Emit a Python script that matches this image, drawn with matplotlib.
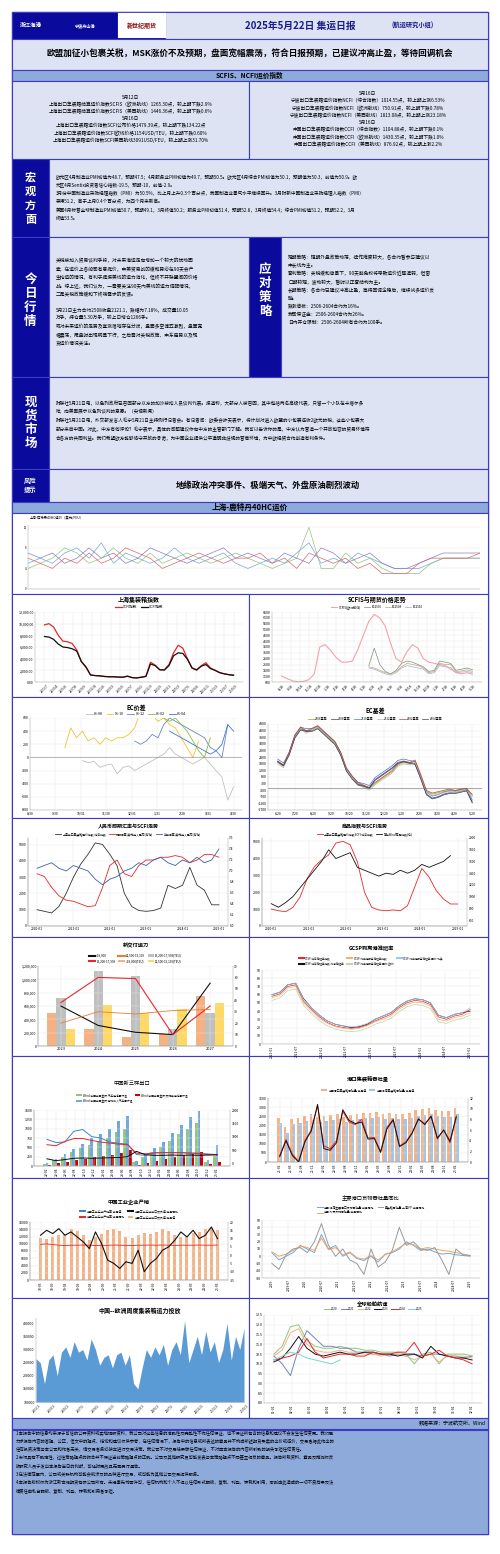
import matplotlib
matplotlib.use("Agg")
import matplotlib.pyplot as plt
from matplotlib.patches import Rectangle
import numpy as np

plt.rcParams['font.family'] = ['Noto Sans CJK SC', 'DejaVu Sans']
plt.rcParams['axes.unicode_minus'] = False

W, H = 500, 1554
fig = plt.figure(figsize=(W/100, H/100), dpi=100)
fig.patch.set_facecolor('white')

DARK = '#0a0a9c'
LIGHT = '#dde3f3'
MID = '#8eaadb'
EDGE = '#3b3bc4'

def rect(x, y, w, h, fc, ec=EDGE, lw=0.8):
    fig.patches.append(Rectangle((x/W, 1-(y+h)/H), w/W, h/H, transform=fig.transFigure,
                                 facecolor=fc, edgecolor=ec, linewidth=lw, zorder=-5))

def txt(x, y, s, size=4, color='black', ha='center', va='center', weight='normal', ls=1.35):
    fig.text(x/W, 1-y/H, s, fontsize=size, color=color, ha=ha, va=va, weight=weight, linespacing=ls)

def ax_at(x, y, w, h):
    a = fig.add_axes([x/W, 1-(y+h)/H, w/W, h/H])
    a.set_zorder(2)
    a.tick_params(labelsize=2.6, length=0, pad=1)
    for s in a.spines.values():
        s.set_linewidth(0.3); s.set_color('#999999')
    a.spines['top'].set_visible(False); a.spines['right'].set_visible(False)
    a.grid(True, color='#e6e6e6', lw=0.3)
    return a

# ---------------- text data ----------------
title_text = '2025年5月22日 集运日报'
subtitle_text = '(航运研究小组)'
headline = '欧盟加征小包裹关税，MSK涨价不及预期，盘面宽幅震荡，符合日报预期，已建议冲高止盈，等待回调机会'
idx_left = ('5月12日\n上海出口集装箱结算运价指数SCFIS（欧洲航线）1265.30点，较上期下跌2.9%\n'
            '上海出口集装箱结算运价指数SCFIS（美西航线）1446.36点，较上期下跌0.6%\n5月16日\n'
            '上海出口集装箱运价指数SCFI公布价格1479.39点，较上期下跌134.22点\n'
            '上海出口集装箱运价指数SCFI欧线价格1154USD/TEU，较上期下跌0.60%\n'
            '上海出口集装箱运价指数SCFI美西航线3091USD/FEU，较上期上涨31.70%')
idx_right = ('5月16日\n宁波出口集装箱运价指数NCFI（综合指数）1014.55点，较上期上涨6.53%\n'
             '宁波出口集装箱运价指数NCFI（欧洲航线）750.91点，较上期下跌0.78%\n'
             '宁波出口集装箱运价指数NCFI（美西航线）1813.08点，较上期上涨23.18%\n5月16日\n'
             '中国出口集装箱运价指数CCFI（综合指数）1104.88点，较上期下跌0.1%\n'
             '中国出口集装箱运价指数CCFI（欧洲航线）1430.35点，较上期下跌1.0%\n'
             '中国出口集装箱运价指数CCFI（美西航线）876.92点，较上期上涨2.2%')
macro = ('欧元区4月制造业PMI初值为48.7，预期47.5；4月服务业PMI初值为49.7，预期50.5。欧元区4月综合PMI初值为50.1，预期值为50.3，前值为50.9。欧\n'
         '元区4月Sentix投资者信心指数-19.5，预期-10，前值-2.9。\n'
         '3月份中国制造业采购经理指数（PMI）为50.5%，比上月上升0.3个百分点，我国制造业景气水平继续回升。3月财新中国制造业采购经理人指数（PMI）\n'
         '录得51.2，高于上月0.4个百分点，为四个月来新高。\n'
         '美国4月标普全球制造业PMI初值50.7，预期49.1，3月终值50.2；服务业PMI初值51.4，预期52.8，3月终值54.4；综合PMI初值51.2，预期52.2，3月\n'
         '终值53.5。')
today = ('关税被加入贸易谈判手段，对未来海运走向增加一个较大的扰动因\n素，在运价上各船司有意挺价，中美贸易战的缓和势必在90天会产\n'
         '生抢运的情况，有利于提振美线的运力消化，但终不开联盟间的价格\n战。综上述，我们认为，一需要关注90天内美线的运力调配情况，\n'
         '二是关税政策缓和下终端需求的反馈。\n\n'
         '5月21日主力合约2508收盘2121.1，跌幅为7.18%，成交量10.05\n万手，持仓量5.30万手，较上日增仓1266手。\n'
         '或对未来运价的走势及宣涨落地存在分歧，盘面多空博弈激烈，盘面宽\n幅震荡，尾盘时出现明显下行，之后需对关税政策、中东局势以及现\n货运价情况关注。')
strategy = ('短期策略：短期外盘政策动荡，操作难度较大，各合约暂参与建议以\n中长线为主。\n'
            '套利策略：关税缓和背景下，90天豁免权将导致运价近强远弱，但窗\n口期较短，波动较大，暂时以正套结构为主。\n'
            '长期策略：各合约已建议冲高止盈，等待回调企稳后，继续试多运价反\n弹。\n'
            '跌涨停板：2506-2604合约为16%。\n我司保证金：2506-2604合约为26%。\n日内开仓限制：2506-2604所有合约为100手。')
spot = ('财联社5月21日电，以色列政府已召回部分以方的加沙被扣人员谈判代表。报道称，大部分人被召回，其中包括两名高级代表，只留一个小队在卡塔尔多\n'
        '哈，向美国展示以色列谈判的意愿。（央视新闻）\n'
        '财联社5月21日电，外交部发言人毛宁5月21日主持例行记者会。有记者问：欧委会昨天表示，将计划对进入欧盟的小包裹征收2欧元的税，这些小包裹大\n'
        '部分来自中国。对此，中方有何评论？毛宁表示，具体的问题建议你向中方的主管部门了解。我可以告诉你的是，中方认为营造一个开放包容的贸易环境符\n'
        '合各方的共同利益。我们希望欧方能够恪守开放的承诺，为中国企业提供公平透明非歧视的营商环境，为中欧经贸合作创造有利条件。')
risk = '地缘政治冲突事件、极端天气、外盘原油剧烈波动'
disclaimer = ('1.本报告中的信息均来源于可信的公开资料或实地调研资料，我公司对这些信息的准确性及完整性不作任何保证，也不保证所包含的信息和建议不会发生任何变更。我们已\n'
              '力求报告内容的客观、公正，但文中的观点、结论和建议仅供参考，在任何情况下，报告中的信息或所表达的意见并不构成所述期货买卖的出价或征价，交易者据此作出的\n'
              '任何投资决策与本公司和作者无关，请交易者务必独立进行交易决策。我公司不对交易结果做任何保证，不对因本报告的内容所引致的损失承担任何责任。\n'
              '2.市场具有不确定性，过往策略观点的吻合并不保证当前策略观点的正确。公司及其他研究员可能发表与本策略观点不同甚至相反的意见。报告所载资料、意见及推测仅反\n'
              '映研究人员于发出本报告当日的判断，可随时更改且无需另行通告。\n'
              '3.在法律范围内，公司或关联机构可能会就涉及的品种进行交易，或可能为其他公司交易提供服务。\n'
              '4.本报告版权仅为浙江新世纪期货有限公司所有。未经事先书面许可，任何机构和个人不得以任何形式翻版、复制、刊登、转载和引用，否则由此造成的一切不良后果及法\n'
              '律责任由私自翻版、复制、刊登、转载和引用者承担。')

# ---------------- chart data ----------------
idx_ticks = ['22/1/7','22/3/4','22/5/6','22/7/8','22/9/9','22/11/4','23/1/6','23/3/3','23/5/5','23/7/7','23/9/1','23/11/3','24/1/5','24/3/1','24/5/3','24/7/5','24/9/6','24/11/1','25/1/3','25/3/7','25/5/9']
scfi = [9800,10000,9400,8000,7000,6900,6600,5500,3500,2500,1200,1100,1050,950,900,900,850,820,1000,750,700,850,1000,3400,2900,2100,2100,3000,5000,6300,5800,4000,2400,2000,2800,3300,2400,2000,1600,1400,1250,1200]
ccfi = [7800,7700,7300,6500,6000,5900,5700,5300,3500,2600,1200,1100,1050,950,900,900,850,820,1000,750,700,800,950,3100,2800,2100,2050,2800,4500,5000,4900,3900,2400,2100,2700,3000,2300,2000,1600,1400,1250,1150]
scfis_ticks = ['8/18','9/18','10/18','11/18','12/18','1/18','2/18','3/18','4/18','5/18','6/18','7/18','8/18','9/18','10/18','11/18','12/18','1/18','2/18','3/18','4/18','5/18']
scfis_eu = [1100,900,700,620,650,800,1300,3600,3800,3300,2700,2300,2300,2400,3400,4600,5800,6400,6100,5400,3900,2600,2300,3200,3800,3500,2600,2300,2200,2100,2000,1700,1400,1300,1400,1265]
fut_2506 = [2000,3500,2100,1500,1300,1600,2200,2400,2300,2100,1900,1500,1600,2400,2300,2200,1600,1700,1800,1650]
fut_2508 = [1900,1800,1600,1400,1300,1500,1900,2200,2100,2000,1800,1400,1500,2200,2100,2100,1500,1550,1650,1500]
fut_2510 = [1800,1700,1500,1300,1200,1400,1800,2000,1900,1800,1700,1300,1400,2000,1900,1850,1400,1450,1500,1400]
ec_ticks = ['8/30','9/30','10/31','11/30','12/31','1/31','2/28','3/31','4/30']
sp_0608 = [-50,-80,-60,-150,-120,-100,-250,-150,-130,-200,-150,-100,-50,0,50,150,50,0,-50,-100,-50,0,-100,-200,-300,-650,-450]
sp_0610 = [150,450,300,400,250,300,200,300,250,300,300,350,450,700,600,650,550,600,500,450,300,150,0,250]
sp_0612 = [250,200,250,350,300,500,600,550,500,450,400,350,300,150,100,0,500]
sp_0602 = [700,650,600,550,600,500,400,250,100,0,300]
sp_0604 = [400,350,300,250,200,150,100,50,100,200,500,400]
basis_ticks = ['6/20','7/20','8/20','9/20','10/20','11/20','12/20','1/20','2/20','3/20','4/20','5/20']
basis_a = [1900,1600,2600,3900,4500,4200,4400,4600,4200,3800,3400,2600,1400,800,300,100,-100,300,600,900,1200,1700,1900,1800,2000,900,-300,-500,-400,-300,-200,-300,-200,-150,-600]
basis_b = [2000,1700,2500,3800,4400,4300,4300,4500,4100,3700,3300,2500,1300,700,250,150,0,600,900,1200,1500,1900,2000,1900,1800,700,-500,-800,-700,-500,-400,-400,-300,-200,-1100]
fx_ticks = ['2020-01','2021-01','2022-01','2023-01','2024-01','2025-01']
fx_scfi = [1000,900,800,1200,2000,3000,3800,4400,5100,5000,4400,3700,2000,1200,950,900,950,1100,2500,2300,2500,3600,2500,2200,1300,1300]
fx_onshore = [6.95,6.90,6.70,6.55,6.47,6.45,6.40,6.35,6.37,6.70,7.10,7.20,6.95,6.90,7.10,7.20,7.20,7.25,7.25,7.28,7.25,7.15,7.20,7.30,7.30,7.25]
fx_offshore = [7.05,7.10,7.15,7.05,7.00,7.10,7.05,7.00,6.85,6.75,6.85,6.90,7.00,7.05,7.15,7.10,7.20,7.25,7.15,7.10,7.20,7.15,7.25,7.15,7.20,7.40]
cm_ticks = ['2020-01','2021-01','2022-01','2023-01','2024-01','2025-01']
cm_scfi = [1000,900,850,1100,1700,2800,3500,3900,4200,4900,5000,4800,3800,2000,1100,950,900,950,900,1200,2300,3400,2900,2100,1600,1300,1300]
cm_wind = [880,820,900,1000,1150,1300,1450,1600,1800,1650,1700,1750,1500,1450,1400,1350,1400,1380,1450,1400,1450,1550,1500,1550,1600,1700]
cap_years = ['2023','2024','2025','2026','2027']
cap_gt18k = [500000,250000,130000,180000,750000]
cap_15k = [720000,1120000,1050000,250000,500000]
cap_12k = [250000,610000,500000,550000,650000]
cap_n18k = [35,18,12,10,55]
cap_n15k = [38,60,59,10,35]
cap_n12k = [20,30,28,31,32]
gc_ticks = ['2021-01','2021-07','2022-01','2022-07','2023-01','2023-07','2024-01','2024-07','2025-01']
gc_a = [60,63,72,74,55,44,35,28,24,22,20,21,24,30,34,38,46,52,55,54,50,35,32,36,38,40]
gc_b = [58,61,70,72,52,42,33,26,22,20,19,20,23,28,32,36,44,50,53,52,48,33,30,34,36,42]
gc_c = [56,59,68,70,50,40,31,25,21,19,18,19,22,27,30,34,42,48,51,50,46,30,28,32,34,38]
ex_ticks = ['22-02','22-04','22-06','22-08','22-10','22-12','23-02','23-04','23-06','23-08','23-10','23-12','24-02','24-04','24-06','24-08','24-10','24-12','25-02']
ex_green = [60,150,250,380,480,560,650,760,900,1000,120,250,380,520,680,850,1000,1150,100,260]
ex_blue = [80,200,320,450,600,750,850,1000,1200,1350,140,300,480,650,880,1100,1300,1480,160,560]
ex_red = [30,70,110,160,190,230,270,300,360,420,40,80,130,180,240,290,330,380,50,100]
ex_line1 = [900,780,800,1200,1270,1000,950,800,750,720,330,300,400,400,400,400,390,380,350,330]
ex_line2 = [700,660,820,930,930,860,800,760,720,700,380,360,390,400,400,400,380,370,330,320]
ex_line3 = [170,100,140,190,200,190,200,210,220,250,450,320,300,300,310,300,310,300,310,320]
pt_ticks = ['21-02','21-05','21-08','21-11','22-02','22-05','22-08','22-11','23-02','23-05','23-08','23-11','24-02','24-05','24-08','24-11','25-02']
pt_bar1 = [2400,1900,2350,2400,2500,2600,2450,2500,2550,2600,2450,2550,2650,2700,2700,2750,2650,2700,2650,2650,2700,2850,2900,2950,2850,2800,2800,2950]
pt_bar2 = [2150,1600,2100,2150,2250,2300,2200,2250,2300,2350,2200,2300,2350,2400,2400,2450,2350,2400,2350,2350,2400,2500,2550,2600,2500,2450,2450,2600]
pt_yoy1 = [1.2,4.2,1.5,0.1,4.0,6.0,10.5,3.0,2.5,4.0,9.5,7.5,7.0,8.0,4.5,4.6,2.0,6.5,8.0,3.0,3.8,5.5,8.0,7.2,8.5,4.3,6.0,3.6,8.3]
pt_yoy2 = [1.0,4.0,1.2,0.0,3.8,5.8,10.8,2.5,2.2,3.6,9.8,7.8,7.2,7.5,4.3,4.4,1.8,6.2,7.9,2.9,3.6,5.4,8.1,7.0,8.6,4.5,6.0,3.9,8.6]
ind_ticks = ['18-03','18-09','19-03','19-09','20-03','20-09','21-03','21-09','22-03','22-09','23-03','23-09','24-03','24-09','25-03']
ind_bar = [11500,11200,11800,12500,12800,14200,13500,12500,11000,12000,12800,13800,14100,13500,12000,11500,12300,13000,12700,13200,14000,13500,12500,11800,12000,13000,13300,14100,14300,13700]
ind_yoy = [6.5,6.8,6.4,6.0,5.8,6.0,6.0,6.1,6.0,5.8,5.9,5.9,6.1,6.0,5.9,5.8,6.0,6.0,6.1,6.0,6.1,6.0,5.9,6.0,6.0,6.0,6.1,6.0,6.0,6.1]
ind_exp = [12,15,13,16,12,14,11,8,4,14,7,-3,-5,-8,-4,-5,3,-10,-5,-2,3,5,9,14,11,15,10,12,17,10]
pg_ticks = ['2019','2019-07','2020','2020-07','2021','2021-07','2022','2022-07','2023','2023-07','2024','2024-07','2025']
pg_a = [5,-5,0,5,15,10,5,30,10,15,0,5,-3,-6,0,-8,3,5,10,20,15,8,10,6,3,4,2,1,0]
pg_b = [6,0,3,8,14,12,8,25,9,12,2,6,-2,-4,1,-5,2,6,12,18,16,10,12,10,8,7,5,3,1]
pg_c = [-10,-18,2,10,12,5,20,45,15,0,10,-5,-10,-25,10,-15,-8,8,40,15,20,10,8,12,-5,-25,10,2,1]
ce_ticks = ['23/1/1','23/3/1','23/5/1','23/7/1','23/9/1','23/11/1','24/1/1','24/3/1','24/5/1','24/7/1','24/9/1','24/11/1','25/1/1','25/3/1','25/5/1']
ce_cap = [265000,250000,170000,260000,280000,200000,290000,310000,270000,330000,290000,300000,260000,340000,300000,240000,270000,280000,230000,280000,290000,240000,280000,170000,150000,230000,300000,270000,310000,280000,320000,240000,300000,330000,280000,410000,250000,300000,350000,280000,370000,290000,330000,250000,300000,400000,260000,350000,300000,380000]
sp_ticks = ['01-01','02-01','03-01','04-01','05-01','06-01','07-01','08-01','09-01','10-01','11-01','12-01']
sp_2023 = [10.1,10.3,10.8,11.4,10.8,10.5,10.4,10.5,10.6,10.5,10.5,10.6,10.6,10.5,10.5,10.4,10.5,10.5,10.3,10.9,10.5,10.4,10.3,10.3,10.2]
sp_2024 = [10.2,10.3,10.4,10.6,11.3,10.6,10.3,10.4,10.5,10.5,10.4,10.4,10.6,10.5,10.5,10.6,10.6,11.1,10.4,10.5,10.7,10.4,10.3,10.2,10.0]
sp_2021 = [10.4,10.0,9.4,10.8,11.7,11.3,10.9,10.9,10.8,10.8,10.6,10.6,10.5,10.5,10.4,10.5,10.4,10.5,10.4,10.5,10.5,10.4,10.4,10.3,10.4]
sp_2020 = [10.5,10.9,11.9,12.0,11.2,10.9,10.8,10.8,10.9,10.8,10.8,10.7,10.7,10.6,10.6,10.6,10.5,10.0,10.5,10.6,10.0,10.5,10.5,10.5,10.4]
sp_2022 = [10.4,10.7,11.6,11.8,11.0,10.7,10.6,10.6,10.7,10.6,10.6,10.5,10.5,10.4,10.5,10.5,10.4,10.2,10.4,10.5,10.1,10.4,10.4,10.4,10.3]
sp_2025 = [10.2,10.4,10.6,10.5,10.3,10.2,10.1,10.0,10.2]
sr_a = [5,6,5,7,8,6,9,5,7,6,5,6,8,6,5,6,7,5,4,5,6,5,7,9,5,6,5,7,6,5,4,4,4,5,6,6,6,6]
sr_b = [4,5,6,8,7,5,6,8,6,5,7,5,6,7,6,5,6,7,6,5,4,5,6,12,4,4,7,5,6,4,3,3,3,5,6,6,6,6]
sr_c = [6,5,4,6,5,7,5,6,8,7,6,4,5,6,7,6,5,6,6,7,5,6,4,7,6,5,6,4,5,3,3,3,5,6,6,6,6,7]
sr_d = [7,6,7,5,6,8,6,7,5,6,8,7,6,5,6,7,8,6,7,6,5,7,6,5,8,7,5,6,7,5,4,4,5,6,7,7,7,7]

# ---------------- layout ----------------
rect(12, 12, 476, 1522, 'white', EDGE, 1.0)
rect(12, 12, 153, 27, DARK)
rect(165, 12, 323, 27, LIGHT)
rect(118, 13, 48, 25, 'white', 'white', 0.1)
txt(20, 25.5, '浙江海港', 4, 'white', ha='left', weight='bold')
txt(85, 25.5, '宁波舟山港', 3, 'white', weight='bold')
txt(142, 25.5, '新世纪期货', 4.3, '#8a1010', weight='bold')
txt(300, 25.5, title_text, 7, '#1a1a8a', weight='bold')
txt(392, 25.5, subtitle_text, 4.5, '#1a1a8a', ha='left', weight='bold')
rect(12, 39, 476, 31, LIGHT)
txt(250, 54.5, headline, 6.2, 'black', weight='bold')
rect(12, 70, 476, 11, MID)
txt(250, 75.5, 'SCFIS、NCFI运价指数', 4.8, 'black', weight='bold')
rect(12, 81, 237, 78, LIGHT)
rect(249, 81, 239, 78, LIGHT)
txt(131, 119, idx_left, 3.4, ls=1.45)
txt(368, 119, idx_right, 3.4, ls=1.45)
rect(12, 159, 37, 78, DARK)
rect(49, 159, 439, 78, LIGHT)
txt(30.5, 198, '宏\n观\n方\n面', 8, 'white', weight='bold', ls=1.1)
txt(56, 198, macro, 3.3, ha='left', ls=1.75)
rect(12, 237, 37, 140, DARK)
rect(49, 237, 200, 140, LIGHT)
rect(249, 237, 32, 140, DARK)
rect(281, 237, 207, 140, LIGHT)
txt(30.5, 300, '今\n日\n行\n情', 9, 'white', weight='bold', ls=1.1)
txt(265, 290, '应\n对\n策\n略', 9, 'white', weight='bold', ls=1.1)
txt(56, 302, today, 3.4, ha='left', ls=1.7)
txt(288, 290, strategy, 3.4, ha='left', ls=1.7)
rect(12, 377, 37, 92, DARK)
rect(49, 377, 439, 92, LIGHT)
txt(30.5, 423, '现\n货\n市\n场', 9, 'white', weight='bold', ls=1.1)
txt(56, 421, spot, 3.3, ha='left', ls=1.75)
rect(12, 469, 37, 33, DARK)
rect(49, 469, 439, 33, LIGHT)
txt(30.5, 485, '风险\n提示', 4.5, 'white', weight='bold')
txt(268, 485, risk, 6, weight='bold')
rect(12, 502, 476, 11, MID)
txt(250, 507.5, '上海-鹿特丹40HC运价', 5.5, 'black', weight='bold')

rows = [(594, 697), (697, 818), (818, 937), (937, 1056), (1056, 1178), (1178, 1298), (1298, 1418)]
rect(12, 513, 476, 81, 'white')
for (y0, y1) in rows:
    rect(12, y0, 237, y1-y0, 'white')
    rect(249, y0, 239, y1-y0, 'white')
rect(12, 1418, 476, 11, MID)
txt(486, 1424, '数据来源：宁波航交所、Wind', 3.6, ha='right')
rect(12, 1430, 476, 104, MID)
txt(16, 1462, disclaimer, 3.1, ha='left', ls=1.75)

def title(ax, s, size=4.3, pad=2):
    ax.set_title(s, fontsize=size, weight='bold', pad=pad)

def leg(ax, ncol=2, size=2.5, loc='upper center', bbox=(0.5, 1.22)):
    ax.legend(fontsize=size, ncol=ncol, frameon=False, loc=loc, bbox_to_anchor=bbox,
              handlelength=2, columnspacing=1, borderaxespad=0, handletextpad=0.4)

def xt(ax, n, labels, rot=45):
    pos = np.linspace(0, n-1, len(labels))
    ax.set_xticks(pos); ax.set_xticklabels(labels, rotation=rot, fontsize=2.4)

def twin(ax):
    b = ax.twinx(); b.tick_params(labelsize=2.4, length=0, pad=1)
    for s in b.spines.values():
        s.set_linewidth(0.3); s.set_color('#999999')
    b.spines['top'].set_visible(False)
    return b

# 0 wide chart
a = ax_at(28, 525, 452, 64)
for s, c in [(sr_a, '#6fa8dc'), (sr_b, '#93c47d'), (sr_c, '#e06666'), (sr_d, '#8e7cc3')]:
    a.plot(s, color=c, lw=0.5)
a.set_xticks([]); a.set_yticks([0, 4, 8, 12]); a.tick_params(labelsize=2)
a.set_xlim(0, len(sr_a)-1)
txt(30, 517, '上海-鹿特丹40HC运价（美元/FEU）', 2.4, ha='left')

# 1 上海集装箱指数
a = ax_at(35, 612, 208, 70)
a.plot(scfi, color='#e8262b', lw=0.9, label='SCFI指数')
a.plot(ccfi, color='#111111', lw=0.9, label='CCFI指数')
title(a, '上海集装箱指数', pad=7); leg(a, bbox=(0.5, 1.12))
a.set_ylim(0, 12000); a.set_yticks(range(0, 12001, 2000))
a.set_yticklabels([f'{v:,.2f}' for v in range(0, 12001, 2000)])
xt(a, len(scfi), idx_ticks)

# 2 SCFIS与期货
a = ax_at(272, 612, 210, 70)
a.plot(scfis_eu, color='#f4a3a8', lw=0.8, label='SCFIS(欧洲航线)')
off = len(scfis_eu) - len(fut_2506)
xs = range(off, len(scfis_eu))
a.plot(xs, fut_2506, color='#7a8f7a', lw=0.5, label='EC2506')
a.plot(xs, fut_2508, color='#c9a27e', lw=0.5, label='EC2508')
a.plot(xs, fut_2510, color='#9fb3c8', lw=0.5, label='EC2510')
title(a, 'SCFIS与期货价格走势', pad=7); leg(a, ncol=4, size=2.2, bbox=(0.5, 1.12))
a.set_ylim(600, 6600); a.set_yticks(range(600, 6601, 500))
xt(a, len(scfis_eu), scfis_ticks)

# 3 EC价差
a = ax_at(30, 718, 212, 92)
n = 36
a.plot(range(n-len(sp_0608), n), sp_0608, color='#c0c0c0', lw=0.6, label='06-08')
a.plot(range(6, 6+len(sp_0610)), sp_0610, color='#f1c232', lw=0.6, label='06-10')
a.plot(range(n-len(sp_0612)-1, n-1), sp_0612, color='#6d87b8', lw=0.6, label='06-12')
a.plot(range(n-len(sp_0602)-4, n-4), sp_0602, color='#8fbc3f', lw=0.6, label='06-02')
a.plot(range(n-len(sp_0604), n), sp_0604, color='#3c78d8', lw=0.6, label='06-04')
a.axhline(0, color='#888888', lw=0.4)
title(a, 'EC价差', pad=6); leg(a, ncol=5, bbox=(0.5, 1.08))
a.set_ylim(-800, 600); a.set_yticks(range(-800, 601, 200))
xt(a, n, ec_ticks, rot=0)

# 4 EC基差
a = ax_at(268, 724, 214, 86)
a.plot(basis_a, color='#8fbc3f', lw=0.6, label='2506基差')
a.plot(basis_b, color='#674ea7', lw=0.6, label='2508基差')
a.plot([v+150 for v in basis_b], color='#3c78d8', lw=0.5, label='2510基差')
a.plot([v-100 for v in basis_a], color='#b7b7b7', lw=0.5, label='2512基差')
a.plot([v+80 for v in basis_a], color='#cc4125', lw=0.5, label='2602基差')
a.plot([v-60 for v in basis_b], color='#444444', lw=0.5, label='2604基差')
a.axhline(0, color='#666666', lw=0.4)
title(a, 'EC基差', pad=8); leg(a, ncol=6, size=2.2, bbox=(0.5, 1.1))
a.set_ylim(-1700, 4800); a.set_yticks(range(-1700, 4801, 500))
xt(a, len(basis_a), basis_ticks, rot=0)

# 5 人民币
a = ax_at(28, 838, 200, 88)
a.plot(fx_scfi, color='#333333', lw=0.6, label='上海出口集装箱运价指数:综合指数')
b = twin(a)
b.plot(fx_onshore, color='#e8262b', lw=0.6)
b.plot(fx_offshore, color='#3d5fa8', lw=0.6)
a.plot([], color='#e8262b', lw=0.6, label='即期汇率:美元兑人民币(右轴)')
a.plot([], color='#3d5fa8', lw=0.6, label='离岸汇率:美元兑人民币(右轴)')
title(a, '人民币即期汇率与SCFI走势', 3.6, pad=7); leg(a, ncol=3, size=2.1, bbox=(0.5, 1.08))
a.set_ylim(0, 5400); b.set_ylim(6.0, 7.6)
xt(a, len(fx_scfi), fx_ticks, rot=0)

# 6 商品指数
a = ax_at(262, 838, 205, 88)
a.plot(cm_scfi, color='#e8262b', lw=0.6, label='上海出口集装箱运价指数SCFI:综合指数')
b = twin(a)
b.plot(cm_wind, color='#111111', lw=0.6)
a.plot([], color='#111111', lw=0.6, label='南华Wind商品指数(右)')
title(a, '商品指数与SCFI走势', 3.6, pad=7); leg(a, ncol=2, size=2.1, bbox=(0.5, 1.08))
a.set_ylim(0, 5200); b.set_ylim(500, 2000)
xt(a, len(cm_scfi), cm_ticks, rot=0)

# 7 新交付运力
a = ax_at(38, 966, 195, 80)
x = np.arange(len(cap_years)); w = 0.25
a.bar(x-w, cap_gt18k, w, color='#f4b183', label='>18,000(TEU)')
a.bar(x, cap_15k, w, color='#bfbfbf', label='15,200-17,999(TEU)')
a.bar(x+w, cap_12k, w, color='#ffd966', label='12,500-15,199(TEU)')
b = twin(a)
b.plot(x, cap_n18k, color='#111111', lw=0.8)
b.plot(x, cap_n15k, color='#e8262b', lw=0.8)
b.plot(x, cap_n12k, color='#ed7d31', lw=0.6)
a.plot([], color='#111111', label='>18,000'); a.plot([], color='#e8262b', label='15,200-17,999')
a.plot([], color='#ed7d31', label='12,500-15,199')
title(a, '新交付运力', 3.8, pad=13); leg(a, ncol=3, size=2.2, bbox=(0.5, 1.17))
a.set_xticks(x); a.set_xticklabels(cap_years, fontsize=2.8)
a.set_ylim(0, 1200000); b.set_ylim(0, 70)
a.set_yticks(range(0, 1200001, 200000))
a.set_yticklabels([f'{v:,}' for v in range(0, 1200001, 200000)])

# 8 GCSP
a = ax_at(262, 970, 218, 74)
for s, c in [(gc_a, '#111111'), (gc_b, '#e8262b'), (gc_c, '#f6b26b'),
             ([v-3 for v in gc_c], '#b6d7a8'), ([v+2 for v in gc_b], '#a4c2f4')]:
    a.plot(s, color=c, lw=0.5)
a.plot([], color='#e8262b', label='GCSP:综合准班率指数')
a.plot([], color='#111111', label='GCSP:综合准班率指数:到港准班率')
a.plot([], color='#f6b26b', label='GCSP:到离港服务准班率指数')
a.plot([], color='#b6d7a8', label='GCSP:到离港服务准班率:亚洲-欧洲')
a.plot([], color='#a4c2f4', label='GCSP:到离港服务准班率:亚洲-北美')
title(a, 'GCSP到离港准班率', 3.8, pad=14); leg(a, ncol=3, size=1.9, bbox=(0.5, 1.2))
a.set_ylim(0, 90); a.set_yticks(range(0, 91, 10))
xt(a, len(gc_a), gc_ticks, rot=90)

# 9 新三样出口
a = ax_at(34, 1110, 196, 56)
x = np.arange(len(ex_green)); w = 0.3
a.bar(x-w, ex_green, w, color='#93c47d', label='Wind 中国出口金额:汽车电池累计值')
a.bar(x, ex_blue, w, color='#6fa8dc', label='Wind 中国出口金额:电动载人汽车累计值')
a.bar(x+w, ex_red, w, color='#cc0000', label='Wind 中国出口金额:太阳能电池累计值')
b = twin(a)
b.plot(x, ex_line1, color='#3d85c6', lw=0.7)
b.plot(x, ex_line2, color='#e8262b', lw=0.7)
b.plot(x, ex_line3, color='#111111', lw=0.7)
a.set_title('中国新三样出口', fontsize=3.8, pad=18); leg(a, ncol=2, size=2.0, bbox=(0.5, 1.32))
a.set_ylim(0, 1500); b.set_ylim(-100, 2000)
xt(a, len(ex_green), ex_ticks, rot=90)

# 10 港口集装箱吞吐量
a = ax_at(268, 1098, 200, 64)
x = np.arange(len(pt_bar1)); w = 0.4
a.bar(x-w/2, pt_bar1, w, color='#f4b183', label='中国港口集装箱吞吐量:当月值')
a.bar(x+w/2, pt_bar2, w, color='#9fc5e8', label='中国沿海集装箱吞吐量:当月值')
b = twin(a)
xx = np.linspace(0, len(pt_bar1)-1, len(pt_yoy1))
b.plot(xx, pt_yoy1, color='#e8262b', lw=0.7)
b.plot(xx, pt_yoy2, color='#111111', lw=0.7)
a.set_title('港口集装箱吞吐量', fontsize=3.8, weight='bold', pad=12); leg(a, ncol=2, size=2.1, bbox=(0.5, 1.17))
a.set_ylim(0, 3500); b.set_ylim(0, 12)
xt(a, len(pt_bar1), pt_ticks, rot=90)

# 11 工业企业产销
a = ax_at(30, 1222, 198, 58)
x = np.arange(len(ind_bar))
a.bar(x, ind_bar, 0.5, color='#f4b183', label='中国工业企业出口交货值:当月值')
b = twin(a)
b.plot(x, ind_yoy, color='#e8262b', lw=0.6)
b.plot(x, ind_exp, color='#111111', lw=0.8)
a.plot([], color='#3d85c6', label='中国工业企业产销率:当月值')
a.plot([], color='#e8262b', label='中国工业企业产销率:当月同比')
a.plot([], color='#111111', label='中国工业企业出口交货值:当月同比')
a.set_title('中国工业企业产销', fontsize=3.8, weight='bold', pad=13); leg(a, ncol=2, size=2.1, bbox=(0.5, 1.24))
a.set_ylim(0, 16000); b.set_ylim(-15, 20)
xt(a, len(ind_bar), ind_ticks, rot=90)

# 12 主要港口
a = ax_at(262, 1220, 218, 58)
a.plot(pg_a, color='#6fa8dc', lw=0.7, label='中国:沿海主要港口货物吞吐量:当月同比')
a.plot(pg_b, color='#f4a460', lw=0.7, label='中国:外贸货物吞吐量:当月同比')
a.plot(pg_c, color='#999999', lw=0.7, label='集装箱吞吐量:上海:FP:当月同比')
a.set_title('主要港口货物吞吐量同比', fontsize=3.8, pad=14)
leg(a, ncol=2, size=2.1, bbox=(0.5, 1.27))
a.set_ylim(-30, 50)
xt(a, len(pg_a), pg_ticks, rot=90)

# 13 中国-欧洲运力
a = ax_at(36, 1318, 208, 84)
a.fill_between(range(len(ce_cap)), 100000, ce_cap, color='#5b9bd5', lw=0)
a.set_ylim(100000, 420000); a.set_xlim(0, len(ce_cap)-1)
a.set_title('中国--欧洲周度集装箱运力投放', fontsize=4.3, weight='bold', pad=4)
a.grid(False)
xt(a, len(ce_cap), ce_ticks)

# 14 航速
a = ax_at(264, 1315, 218, 88)
for s, c, lab in [(sp_2020, '#93c47d', '2020'), (sp_2021, '#6d87b8', '2021'), (sp_2022, '#f4b183', '2022'),
                  (sp_2023, '#111111', '2023'), (sp_2024, '#e8262b', '2024'), (sp_2025, '#76d7d7', '2025')]:
    a.plot(s, color=c, lw=0.7, label=lab)
a.set_title('全球船舶航速', fontsize=3.8, weight='bold', pad=6)
leg(a, ncol=6, size=2.2, bbox=(0.5, 1.1))
a.set_ylim(8, 12.5); a.set_yticks(np.arange(8, 12.6, 0.5))
xt(a, len(sp_2023), sp_ticks, rot=90)

fig.savefig('out.png', dpi=100)
